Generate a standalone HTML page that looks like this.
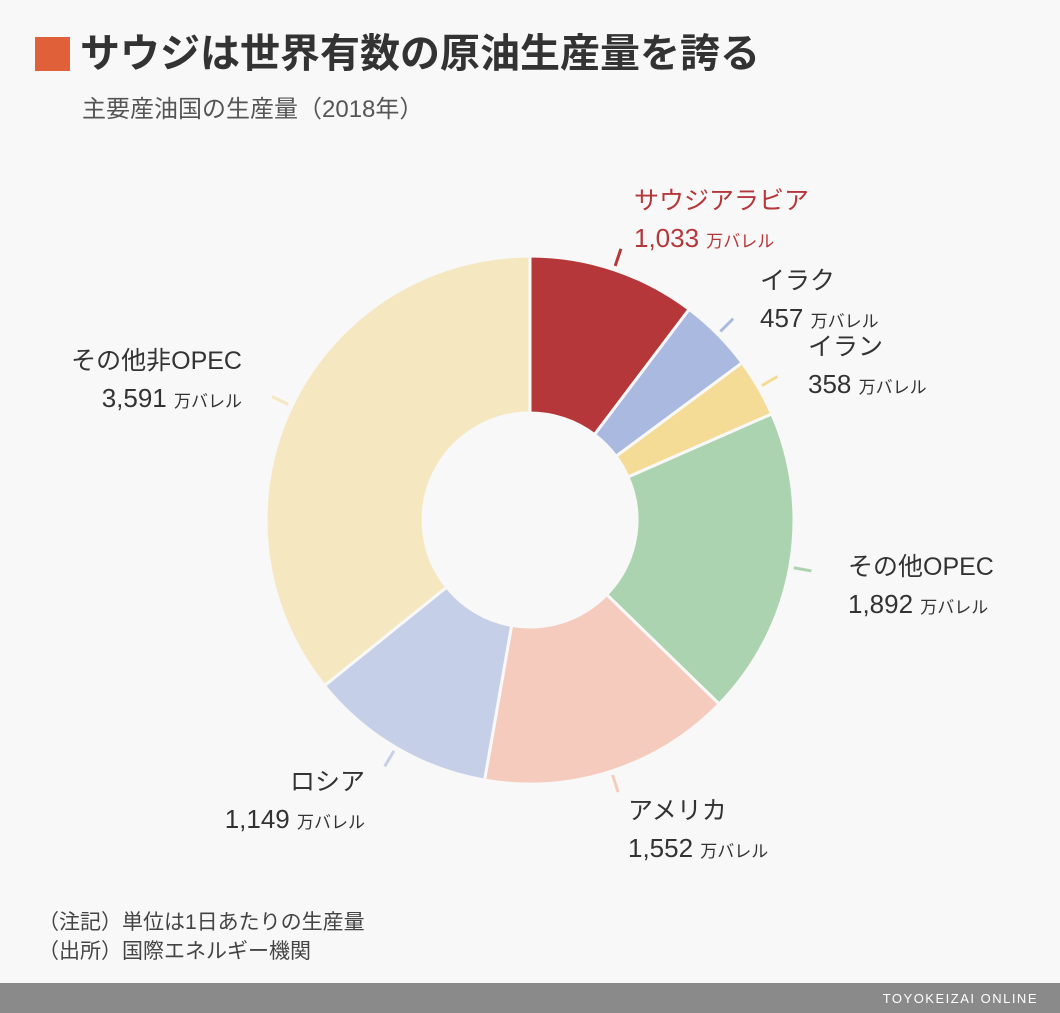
<!DOCTYPE html>
<html><head><meta charset="utf-8">
<style>
body{margin:0;width:1060px;height:1013px;background:#f8f8f8;overflow:hidden;font-family:"Liberation Sans","Noto Sans CJK JP",sans-serif;}
svg{display:block}
text{font-family:"Liberation Sans","Noto Sans CJK JP",sans-serif;}
</style></head>
<body>
<svg width="1060" height="1013">
<rect x="0" y="0" width="1060" height="1013" fill="#f8f8f8"/>
<rect x="35" y="37" width="35" height="34" fill="#e0603a"/>
<text x="80" y="67" font-size="40" font-weight="bold" fill="#333" style="font-family:'Noto Sans CJK JP',sans-serif">サウジは世界有数の原油生産量を誇る</text>
<text x="82" y="117" font-size="24" fill="#555" style="font-family:'Liberation Sans','Noto Sans CJK JP',sans-serif">主要産油国の生産量（2018年）</text>
<g id="donut"></g>
<g id="labels"></g>
<text x="38" y="929" font-size="21" fill="#444">（注記）単位は1日あたりの生産量</text>
<text x="38" y="958" font-size="21" fill="#444">（出所）国際エネルギー機関</text>
<rect x="0" y="983" width="1060" height="30" fill="#8a8a8a"/>
<text x="1038" y="1003" font-size="13" fill="#fff" text-anchor="end" letter-spacing="1.5">TOYOKEIZAI ONLINE</text>
</svg>
<script>
const categories=["サウジアラビア","イラク","イラン","その他OPEC","アメリカ","ロシア","その他非OPEC"];
const values=[1033,457,358,1892,1552,1149,3591];
const valueLabels=["1,033","457","358","1,892","1,552","1,149","3,591"];
const colors=["#b5373a","#a9b9e0","#f5dc96","#acd3b0","#f5cbbe","#c5cfe8","#f5e7c0"];
const labelPos=[[634,200,"start"],[760,280,"start"],[808,346,"start"],[848,566,"start"],[628,810,"start"],[365,781,"end"],[242,360,"end"]];
const cx=530,cy=520,R=264,r=107;
const NS="http://www.w3.org/2000/svg";
const total=values.reduce((a,b)=>a+b,0);
function pt(a,rad){return [cx+rad*Math.sin(a),cy-rad*Math.cos(a)];}
const g=document.getElementById('donut'),lg=document.getElementById('labels');
let acc=0;
values.forEach((v,i)=>{
 const a0=acc/total*2*Math.PI,a1=(acc+v)/total*2*Math.PI;acc+=v;
 const large=(a1-a0)>Math.PI?1:0;
 const p0=pt(a0,R),p1=pt(a1,R),q1=pt(a1,r),q0=pt(a0,r);
 const path=document.createElementNS(NS,'path');
 path.setAttribute('d',`M${p0[0]},${p0[1]}A${R},${R} 0 ${large} 1 ${p1[0]},${p1[1]}L${q1[0]},${q1[1]}A${r},${r} 0 ${large} 0 ${q0[0]},${q0[1]}Z`);
 path.setAttribute('fill',colors[i]);path.setAttribute('stroke','#f8f8f8');path.setAttribute('stroke-width','3');
 
 
 g.appendChild(path);
 const am=(a0+a1)/2,t0=pt(am,R+4),t1=pt(am,R+22);
 const ln=document.createElementNS(NS,'line');
 ln.setAttribute('x1',t0[0]);ln.setAttribute('y1',t0[1]);ln.setAttribute('x2',t1[0]);ln.setAttribute('y2',t1[1]);
 ln.setAttribute('stroke',colors[i]);ln.setAttribute('stroke-width','3');
 
 
 g.appendChild(ln);
 const [lx,ly,anc]=labelPos[i];
 const fill=i===0?'#b5373a':'#333';
 const t=document.createElementNS(NS,'text');
 t.setAttribute('x',lx);t.setAttribute('y',ly+9);t.setAttribute('font-size','25');t.setAttribute('fill',fill);t.setAttribute('text-anchor',anc);
 t.textContent=categories[i];
 
 
 lg.appendChild(t);
 const t2=document.createElementNS(NS,'text');
 t2.setAttribute('x',lx);t2.setAttribute('y',ly+47);t2.setAttribute('fill',fill);t2.setAttribute('text-anchor',anc);
 const s1=document.createElementNS(NS,'tspan');s1.setAttribute('font-size','26');s1.textContent=valueLabels[i]+' ';
 const s2=document.createElementNS(NS,'tspan');s2.setAttribute('font-size','17');s2.textContent='万バレル';
 t2.appendChild(s1);t2.appendChild(s2);
 
 
 lg.appendChild(t2);
});
</script>
</body></html>
